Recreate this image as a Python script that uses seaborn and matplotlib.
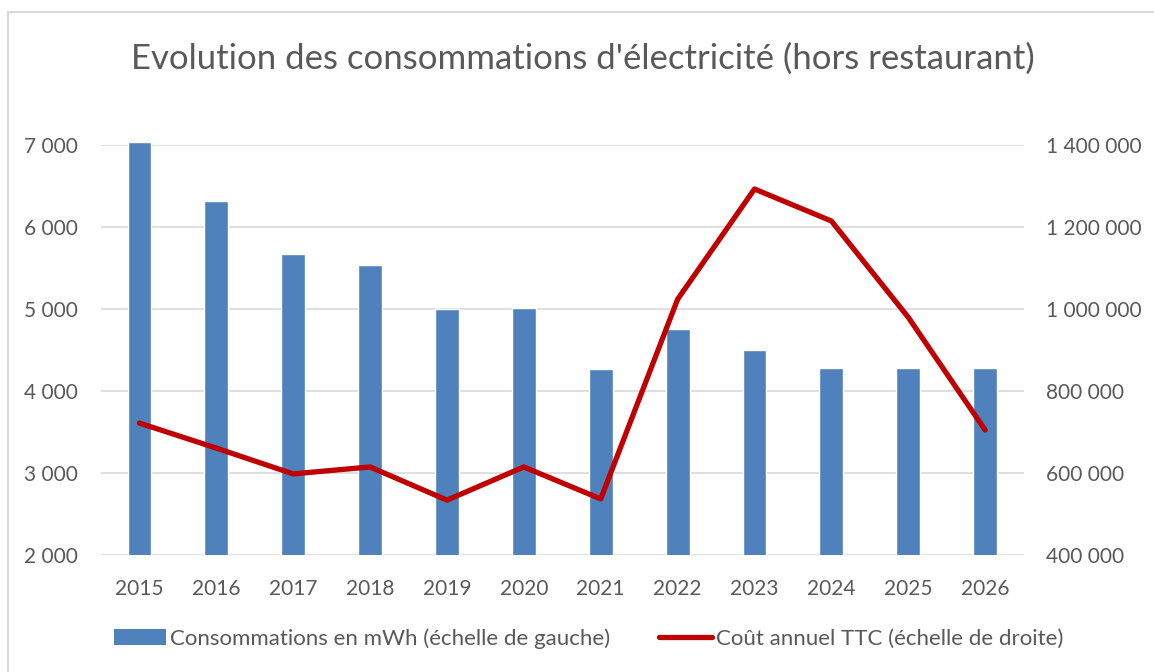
import numpy as np
import pandas as pd
import matplotlib.pyplot as plt
import seaborn as sns
from matplotlib.patches import Rectangle, Patch
from matplotlib.lines import Line2D
from matplotlib.ticker import FuncFormatter

# Données
annees = ['2015', '2016', '2017', '2018', '2019', '2020',
          '2021', '2022', '2023', '2024', '2025', '2026']
conso_mwh = [7040, 6320, 5670, 5540, 5000, 5010,
             4270, 4760, 4500, 4280, 4280, 4280]
cout_ttc = [722000, 661000, 598000, 615000, 534000, 615000,
            537000, 1024000, 1293000, 1215000, 980000, 705000]

df = pd.DataFrame({'Annee': annees, 'Conso': conso_mwh, 'Cout': cout_ttc})
df['pos'] = np.arange(len(df))

sns.set_style('white')
plt.rcParams['font.family'] = ['Lato', 'DejaVu Sans']

gris = '#595959'
bleu = '#4F81BD'
rouge = '#C00000'

fig = plt.figure(figsize=(11.54, 6.72), dpi=100)
ax1 = fig.add_axes([0.0875, 0.174, 0.7995, 0.610])

sns.barplot(data=df, x='Annee', y='Conso', color=bleu, width=0.31,
            saturation=1, ax=ax1, zorder=2)
# la barre 2015 dépasse un peu 7 000 : on élargit la zone de découpe vers le haut
clip = Rectangle((0, 0), 1, 1.05, transform=ax1.transAxes)
for b in ax1.patches:
    b.set_clip_path(clip)
ax1.set_ylim(2000, 7000)
ax1.set_xlim(-0.5, len(df) - 0.5)
ax1.set_yticks([2000, 3000, 4000, 5000, 6000, 7000])
ax1.grid(axis='y', color='#d9d9d9', linewidth=1.2, zorder=0)
ax1.set_axisbelow(True)

fmt = FuncFormatter(lambda v, p: f'{int(v):,}'.replace(',', ' '))
ax1.yaxis.set_major_formatter(fmt)

ax2 = ax1.twinx()
sns.lineplot(data=df, x='pos', y='Cout', color=rouge, linewidth=3.8, ax=ax2)
ax2.set_ylim(400000, 1400000)
ax2.set_yticks([400000, 600000, 800000, 1000000, 1200000, 1400000])
ax2.yaxis.set_major_formatter(fmt)
ax2.set_xlim(-0.5, len(df) - 0.5)

for ax in (ax1, ax2):
    ax.set_xlabel('')
    ax.set_ylabel('')
    for s in ax.spines.values():
        s.set_visible(False)
    ax.tick_params(length=0, labelsize=15, colors=gris)
ax1.tick_params(axis='y', pad=16.5)
ax1.tick_params(axis='x', pad=17)
ax2.tick_params(axis='y', pad=16)

fig.text(0.505, 0.912, "Evolution des consommations d'électricité (hors restaurant)",
         ha='center', va='center', fontsize=25, color=gris)

handles = [Patch(facecolor=bleu, edgecolor='none'),
           Line2D([0], [0], color=rouge, linewidth=3.8)]
labels = ['Consommations en mWh (échelle de gauche)',
          'Coût annuel TTC (échelle de droite)']
fig.legend(handles, labels, loc='center', bbox_to_anchor=(0.51, 0.05),
           ncol=2, frameon=False, fontsize=16, labelcolor=gris,
           handlelength=2.35, handleheight=0.7, handletextpad=0.2,
           columnspacing=2.2)

# cadre du graphique
fig.patches.append(Rectangle((8 / 1154, -0.1), 1.2, 1 - 12 / 672 + 0.1,
                             transform=fig.transFigure, fill=False,
                             edgecolor='#d9d9d9', linewidth=1.5))

fig.savefig('out.png', dpi=100)
